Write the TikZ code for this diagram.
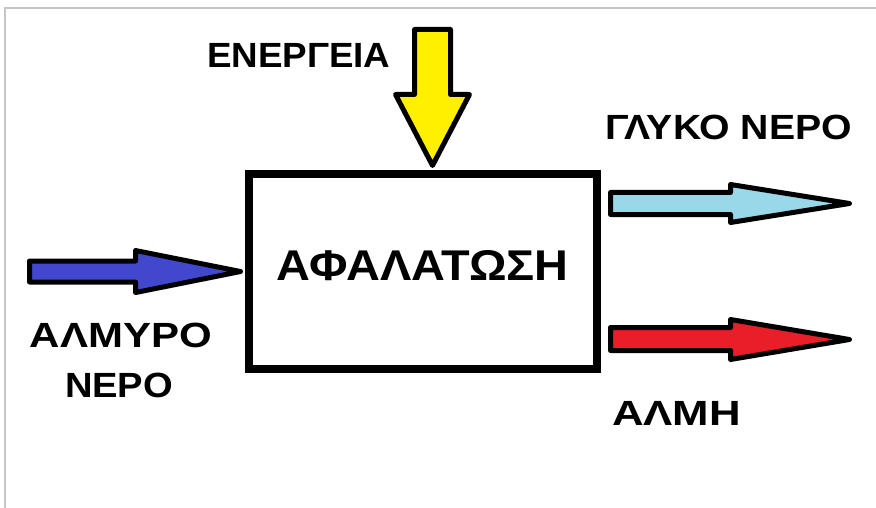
\documentclass[tikz,border=0pt]{standalone}
\usepackage{fontspec}
\usepackage{graphicx}
\setmainfont{Liberation Sans}
\definecolor{arrblue}{RGB}{66,72,206}
\definecolor{arrcyan}{RGB}{152,216,232}
\definecolor{arrred}{RGB}{234,30,40}
\definecolor{arryellow}{RGB}{255,240,0}
\begin{document}
\begin{tikzpicture}[x=1pt,y=-1pt,
  blockarrow/.style={draw=black,line width=5pt,line join=round},
  lbl/.style={inner sep=0pt,outer sep=0pt,font=\fontsize{35}{42}\selectfont\bfseries},
  mainbox/.style={draw=black,line width=7.5pt,minimum width=348pt,minimum height=195pt,inner sep=0pt}]
\useasboundingbox[fill=white] (0,0) rectangle (876,508);
\draw[gray!45,line width=2pt] (876,8) -- (5,8) -- (5,508);
% box
\node[mainbox] (box) at (423,271.5) {};
\node[lbl,anchor=base,font=\fontsize{43}{50}\selectfont\bfseries] (title) at (422.5,280) {\scalebox{1.09}[1]{ΑΦΑΛΑΤΩΣΗ}};
% yellow arrow (energy in)
\draw[blockarrow,fill=arryellow] (414.5,29.5) -- (450.5,29.5) -- (450.5,94.5) -- (469.5,94.5) -- (432.5,165.5) -- (395.5,94.5) -- (414.5,94.5) -- cycle;
\node[lbl,anchor=base west] (energy) at (207,68) {\scalebox{1.05}[1]{ΕΝΕΡΓΕΙΑ}};
% blue arrow (salt water in)
\draw[blockarrow,fill=arrblue] (29.5,261) -- (135.5,261) -- (135.5,250.5) -- (240.5,271.5) -- (135.5,292.5) -- (135.5,282) -- (29.5,282) -- cycle;
\node[lbl,anchor=base west] (salt1) at (30,347) {\scalebox{1.2}[1]{ΑΛΜΥΡΟ}};
\node[lbl,anchor=base west] (salt2) at (65,397) {\scalebox{1.09}[1]{ΝΕΡΟ}};
% cyan arrow (fresh water out)
\draw[blockarrow,fill=arrcyan] (610.5,192.5) -- (730.5,192.5) -- (730.5,184.5) -- (849.5,203.5) -- (730.5,222.5) -- (730.5,214.5) -- (610.5,214.5) -- cycle;
\node[lbl,anchor=base west] (fresh) at (605,140) {\scalebox{1.12}[1]{ΓΛΥΚΟ ΝΕΡΟ}};
% red arrow (brine out)
\draw[blockarrow,fill=arrred] (610.5,327.5) -- (730.5,327.5) -- (730.5,319.5) -- (849.5,339.5) -- (730.5,359.5) -- (730.5,350.5) -- (610.5,350.5) -- cycle;
\node[lbl,anchor=base west] (brine) at (612,425) {\scalebox{1.25}[1]{ΑΛΜΗ}};
\end{tikzpicture}
\end{document}
